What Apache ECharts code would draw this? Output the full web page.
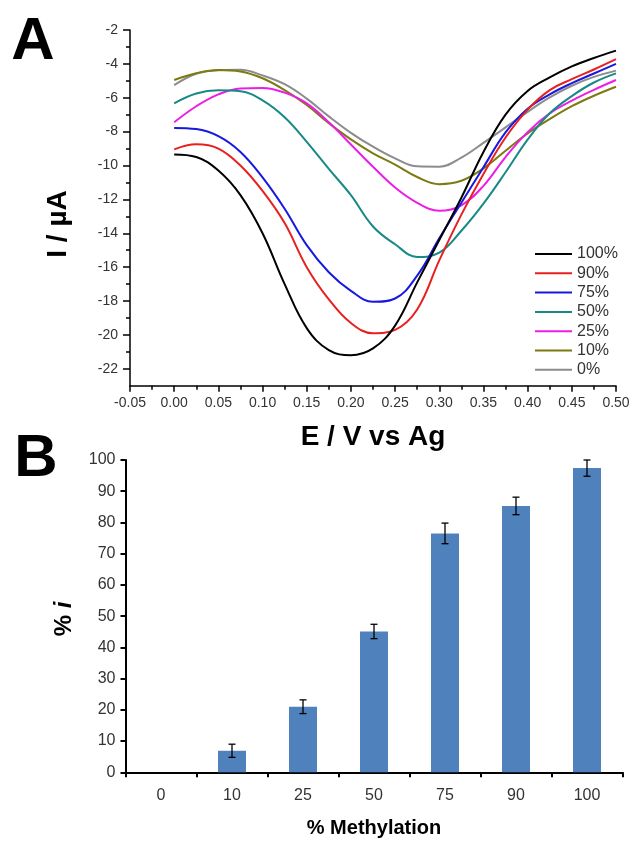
<!DOCTYPE html>
<html><head><meta charset="utf-8">
<script src="https://cdn.jsdelivr.net/npm/echarts@6.0.0/dist/echarts.min.js"></script>
<style>html,body{margin:0;padding:0;background:#fff}#chart{width:633px;height:841px}</style>
</head><body><div id="chart"></div>
<script>
// ---- Panel A: voltammograms ----
const potentials = [0, 0.025, 0.05, 0.075, 0.1, 0.125, 0.15, 0.175, 0.2, 0.225, 0.25, 0.275, 0.3, 0.325, 0.35, 0.375, 0.4, 0.425, 0.45, 0.475, 0.5];
const seriesNames = ['100%', '90%', '75%', '50%', '25%', '10%', '0%'];
const current100 = [-9.35, -9.5, -10.3, -11.75, -14.0, -17.0, -19.6, -20.9, -21.2, -20.8, -19.45, -16.9, -14.4, -11.9, -9.2, -7.0, -5.6, -4.8, -4.15, -3.65, -3.22];
const current90  = [-9.05, -8.75, -9.0, -10.0, -11.5, -13.4, -16.0, -17.9, -19.3, -19.9, -19.7, -18.5, -15.6, -12.9, -10.5, -8.35, -6.7, -5.55, -4.9, -4.33, -3.72];
const current75  = [-7.78, -7.85, -8.27, -9.2, -10.7, -12.55, -14.7, -16.3, -17.4, -18.05, -17.85, -16.5, -14.3, -12.2, -10.1, -8.05, -6.65, -5.8, -5.14, -4.57, -4.0];
const current50  = [-6.33, -5.75, -5.56, -5.62, -6.15, -7.15, -8.6, -10.2, -11.75, -13.6, -14.65, -15.4, -15.15, -13.85, -12.25, -10.4, -8.47, -6.92, -5.9, -5.1, -4.56];
const current25  = [-7.45, -6.5, -5.8, -5.45, -5.42, -5.7, -6.33, -7.45, -8.76, -10.07, -11.3, -12.2, -12.67, -12.35, -11.2, -9.5, -8.03, -6.92, -6.17, -5.53, -4.95];
const current10  = [-4.95, -4.55, -4.36, -4.45, -4.85, -5.55, -6.43, -7.5, -8.46, -9.28, -9.95, -10.68, -11.1, -10.9, -10.17, -9.13, -8.1, -7.26, -6.5, -5.88, -5.35];
const current0   = [-5.25, -4.58, -4.37, -4.35, -4.68, -5.2, -6.05, -7.1, -8.07, -8.89, -9.58, -10.05, -10.07, -9.53, -8.66, -7.75, -6.83, -5.98, -5.29, -4.77, -4.4];
const currents = [current100, current90, current75, current50, current25, current10, current0];
const lineColors = ['#000000', '#e8201e', '#1818e0', '#178a86', '#ec1ee6', '#7c7a10', '#8c8c8c'];
const yMajorTicks = [-22, -20, -18, -16, -14, -12, -10, -8, -6, -4, -2];
const yMinorTicks = [-21, -19, -17, -15, -13, -11, -9, -7, -5, -3];

// ---- Panel B: bar chart ----
const barCategories = ['0', '10', '25', '50', '75', '90', '100'];
const barValues = [0, 6.9, 21.0, 45.1, 76.5, 85.3, 97.4];
const barErrors = [null, 2.1, 2.2, 2.3, 3.3, 2.8, 2.6];

const FONT = 'Liberation Sans, Arial, Helvetica, sans-serif';
const chart = echarts.init(document.getElementById('chart'), null, {renderer: 'canvas'});

const lineSeries = seriesNames.map((name, k) => ({
  name, type: 'line', xAxisIndex: 0, yAxisIndex: 0,
  data: potentials.map((e, i) => [e, currents[k][i]]),
  smooth: 0.4, showSymbol: false, symbol: 'none',
  lineStyle: {color: lineColors[k], width: 2},
  itemStyle: {color: lineColors[k]},
  z: 10 - k
}));

const errData = [];
barCategories.forEach((c, i) => {
  if (barErrors[i] != null) errData.push([i, barValues[i] - barErrors[i], barValues[i] + barErrors[i]]);
});

chart.setOption({
  animation: false,
  textStyle: {fontFamily: FONT},
  grid: [
    {left: 130, width: 486, top: 30, height: 355.7},
    {left: 125.5, width: 497, top: 460, height: 312.3}
  ],
  legend: {
    orient: 'vertical', left: 530, top: 241, itemWidth: 37, itemHeight: 2, icon: 'rect',
    itemGap: 3.3, textStyle: {fontSize: 16, color: '#333', lineHeight: 16, fontFamily: FONT},
    data: seriesNames
  },
  xAxis: [
    {
      type: 'value', gridIndex: 0, min: -0.05, max: 0.5, interval: 0.05,
      axisLine: {show: true, onZero: false, lineStyle: {color: '#000', width: 1.5}},
      axisTick: {show: true, length: 6, lineStyle: {color: '#000', width: 1.5}},
      minorTick: {show: true, splitNumber: 2, length: 4, lineStyle: {color: '#000', width: 1.5}},
      splitLine: {show: false},
      axisLabel: {fontSize: 14, color: '#333', margin: 10, formatter: v => v.toFixed(2)}
    },
    {
      type: 'category', gridIndex: 1, data: barCategories, boundaryGap: true,
      axisLine: {show: true, lineStyle: {color: '#000', width: 2}},
      axisTick: {show: true, length: 5, alignWithLabel: false, lineStyle: {color: '#000', width: 2}},
      axisLabel: {fontSize: 16, color: '#333', margin: 15}
    }
  ],
  yAxis: [
    {
      type: 'value', gridIndex: 0, min: -23, max: -2,
      axisLine: {show: true, onZero: false, lineStyle: {color: '#000', width: 1.5}},
      axisTick: {show: true, length: 7, customValues: yMajorTicks, lineStyle: {color: '#000', width: 1.5}},
      axisLabel: {fontSize: 14, color: '#333', margin: 12, customValues: yMajorTicks},
      splitLine: {show: false}
    },
    {
      type: 'value', gridIndex: 0, min: -23, max: -2, position: 'left',
      axisLine: {show: false, onZero: false},
      axisTick: {show: true, length: 4, customValues: yMinorTicks, lineStyle: {color: '#000', width: 1.5}},
      axisLabel: {show: false},
      splitLine: {show: false}
    },
    {
      type: 'value', gridIndex: 1, min: 0, max: 100, interval: 10,
      axisLine: {show: true, lineStyle: {color: '#000', width: 2}},
      axisTick: {show: true, length: 5, lineStyle: {color: '#000', width: 2}},
      axisLabel: {fontSize: 16, color: '#333', margin: 10},
      splitLine: {show: false}
    }
  ],
  series: lineSeries.concat([
    {
      type: 'bar', xAxisIndex: 1, yAxisIndex: 2, data: barValues, barWidth: 28,
      itemStyle: {color: '#4f81bd'}
    },
    {
      type: 'custom', xAxisIndex: 1, yAxisIndex: 2, data: errData, z: 5,
      renderItem: function (params, api) {
        const lo = api.coord([api.value(0), api.value(1)]);
        const hi = api.coord([api.value(0), api.value(2)]);
        const w = 3.5;
        const st = {stroke: '#000', lineWidth: 1.3};
        return {type: 'group', children: [
          {type: 'line', shape: {x1: lo[0], y1: lo[1], x2: hi[0], y2: hi[1]}, style: st},
          {type: 'line', shape: {x1: lo[0] - w, y1: lo[1], x2: lo[0] + w, y2: lo[1]}, style: st},
          {type: 'line', shape: {x1: hi[0] - w, y1: hi[1], x2: hi[0] + w, y2: hi[1]}, style: st}
        ]};
      }
    }
  ]),
  graphic: [
    {type: 'text', x: 33, y: 42, style: {text: 'A', font: 'bold 60px ' + FONT, fill: '#000', align: 'center', verticalAlign: 'middle'}},
    {type: 'text', x: 36, y: 459, style: {text: 'B', font: 'bold 60px ' + FONT, fill: '#000', align: 'center', verticalAlign: 'middle'}},
    {type: 'text', x: 58, y: 224, rotation: Math.PI / 2, style: {text: 'I / µA', font: 'bold 28px ' + FONT, fill: '#000', align: 'center', verticalAlign: 'middle'}},
    {type: 'text', x: 373, y: 437, style: {text: 'E / V vs Ag', font: 'bold 28px ' + FONT, fill: '#000', align: 'center', verticalAlign: 'middle'}},
    {type: 'text', x: 64, y: 619, rotation: Math.PI / 2, style: {
      text: '{a|% }{b|i}', align: 'center', verticalAlign: 'middle',
      rich: {a: {font: 'bold 24px ' + FONT, fill: '#000'}, b: {font: 'italic bold 24px ' + FONT, fill: '#000'}}
    }},
    {type: 'text', x: 374, y: 828, style: {text: '% Methylation', font: 'bold 20px ' + FONT, fill: '#000', align: 'center', verticalAlign: 'middle'}}
  ]
});
</script>
</body></html>
